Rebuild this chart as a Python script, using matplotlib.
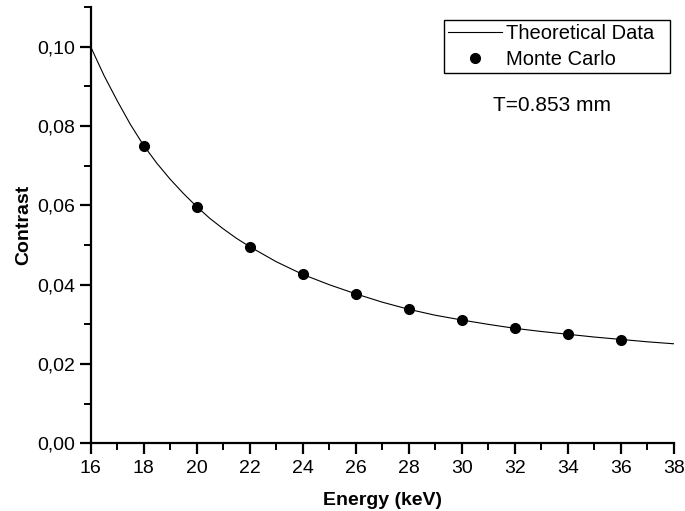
import matplotlib
matplotlib.use("Agg")
import matplotlib.pyplot as plt
from matplotlib.ticker import MultipleLocator, FuncFormatter

plt.rcParams['font.family'] = ['Liberation Sans', 'DejaVu Sans']

theory_energy = [16, 16.5, 17, 17.5, 18, 18.5, 19, 19.5, 20, 20.5, 21, 21.5, 22,
                 23, 24, 25, 26, 27, 28, 29, 30, 31, 32, 33, 34, 35, 36, 37, 38]
theory_contrast = [0.1000, 0.0928, 0.0864, 0.0804, 0.0751, 0.0706, 0.0666, 0.0630, 0.0597,
                   0.0567, 0.0541, 0.0517, 0.0496, 0.0458, 0.0426, 0.0400, 0.0377,
                   0.0356, 0.0338, 0.0323, 0.0311, 0.0300, 0.0290, 0.0282, 0.0275,
                   0.0268, 0.0262, 0.0256, 0.0251]

mc_energy = [18, 20, 22, 24, 26, 28, 30, 32, 34, 36]
mc_contrast = [0.0750, 0.0597, 0.0496, 0.0426, 0.0377, 0.0339, 0.0311, 0.0290, 0.0275, 0.0261]

fig = plt.figure(figsize=(6.85, 5.11), dpi=100)
ax = fig.add_axes([0.1324, 0.1325, 0.8511, 0.8535])

ax.plot(theory_energy, theory_contrast, color='black', lw=0.8, label='Theoretical Data')
ax.plot(mc_energy, mc_contrast, 'o', color='black', ms=7, label='Monte Carlo')

ax.set_xlim(16, 38)
ax.set_ylim(0, 0.11)
ax.spines['top'].set_visible(False)
ax.spines['right'].set_visible(False)
ax.spines['left'].set_linewidth(1.6)
ax.spines['bottom'].set_linewidth(1.6)

ax.xaxis.set_major_locator(MultipleLocator(2))
ax.xaxis.set_minor_locator(MultipleLocator(1))
ax.yaxis.set_major_locator(MultipleLocator(0.02))
ax.yaxis.set_minor_locator(MultipleLocator(0.01))
ax.yaxis.set_major_formatter(FuncFormatter(lambda v, p: f"{v:.2f}".replace('.', ',')))

ax.tick_params(which='major', direction='out', length=8, width=1.6, labelsize=14)
ax.tick_params(which='minor', direction='out', length=5, width=1.4)
ax.tick_params(axis='x', pad=4)
ax.tick_params(axis='y', pad=3)

ax.set_xlabel('Energy (keV)', fontsize=14, fontweight='bold', labelpad=11)
ax.set_ylabel('Contrast', fontsize=14, fontweight='bold', labelpad=4)

leg = ax.legend(loc='upper left', bbox_to_anchor=(0.606, 0.80, 0.3877, 0.17), mode='expand',
                fontsize=14.5, frameon=True, fancybox=False, edgecolor='black', framealpha=1,
                borderpad=0.2, handlelength=2.7, handletextpad=0.2, labelspacing=0.35,
                borderaxespad=0)
leg.get_frame().set_linewidth(1.0)

ax.text(0.791, 0.775, 'T=0.853 mm', transform=ax.transAxes, fontsize=15,
        ha='center', va='center')

fig.savefig('out.png', dpi=100)
